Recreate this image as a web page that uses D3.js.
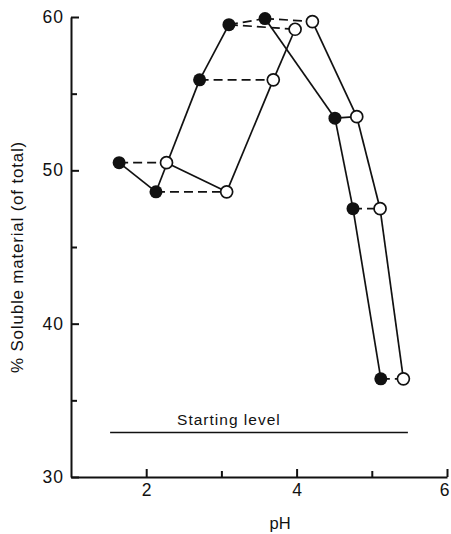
<!DOCTYPE html>
<meta charset="utf-8">
<style>
body { margin: 0; background: #fff; }
text { font-family: "Liberation Sans", Arial, sans-serif; fill: #111; }
.axis path, .axis line { stroke: #111; stroke-width: 2px; }
.link { fill: none; stroke: #111; stroke-width: 1.7px; }
.dashed { stroke-dasharray: 9 5; }
</style>
<body>
<script src="https://d3js.org/d3.v7.min.js"></script>
<script>

// filled circles (pH, % soluble)
var filledPH  = [1.64, 2.13, 2.71, 3.10, 3.58, 4.51, 4.75, 5.12];
var filledVal = [50.5, 48.6, 55.9, 59.5, 59.9, 53.4, 47.5, 36.4];
// open circles
var openPH  = [2.27, 3.07, 3.69, 3.98, 4.21, 4.80, 5.11, 5.42];
var openVal = [50.5, 48.6, 55.9, 59.2, 59.7, 53.5, 47.5, 36.4];

// links between points: [series, index, series, index]
var solidLinks = [
  ["f",0,"f",1], ["f",1,"f",2], ["f",2,"f",3], ["f",4,"f",5], ["f",5,"f",6], ["f",6,"f",7],
  ["o",0,"o",1], ["o",1,"o",2], ["o",2,"o",3], ["o",4,"o",5], ["o",5,"o",6], ["o",6,"o",7],
  ["f",5,"o",5]
];
var dashedLinks = [
  ["f",0,"o",0], ["f",1,"o",1], ["f",2,"o",2], ["f",3,"o",3], ["f",3,"f",4],
  ["f",4,"o",4], ["f",6,"o",6], ["f",7,"o",7]
];

var startingLevel = 32.9;
var startingRange = [1.52, 5.48];

var xTicks = [2, 4, 6], xMinor = [3, 5];
var yTicks = [30, 40, 50, 60], yMinor = [35, 45, 55];

var margin = {top: 17, left: 71},
    width = 376,
    height = 460;

var x = d3.scaleLinear().domain([1, 6]).range([0, width]);
var y = d3.scaleLinear().domain([30, 60]).range([height, 0]);

var svg = d3.select("body").append("svg")
    .attr("width", 451)
    .attr("height", 534)
  .append("g")
    .attr("transform", "translate(" + margin.left + "," + margin.top + ")");

function pt(s, i) {
  return s == "f" ? [filledPH[i], filledVal[i]] : [openPH[i], openVal[i]];
}

// axes, ticks pointing inward
svg.append("g")
    .attr("class", "axis")
    .attr("transform", "translate(0," + height + ")")
    .call(d3.axisBottom(x).tickValues(xTicks).tickFormat(d3.format("d"))
      .tickSizeInner(-8).tickSizeOuter(0).tickPadding(7))
    .call(g => g.selectAll("text").style("font-size", "17.5px").attr("fill", "#111")
      .attr("dx", d => d == 6 ? "-3" : null));

svg.append("g")
    .attr("class", "axis")
    .attr("transform", "translate(0," + height + ")")
    .call(d3.axisBottom(x).tickValues(xMinor).tickSizeInner(-6).tickSizeOuter(0).tickFormat(""))
    .call(g => g.select(".domain").remove());

svg.append("g")
    .attr("class", "axis")
    .call(d3.axisLeft(y).tickValues(yTicks).tickFormat(d3.format("d"))
      .tickSizeInner(-8).tickSizeOuter(0).tickPadding(7))
    .call(g => g.selectAll("text").style("font-size", "17.5px").style("letter-spacing", "1px")
      .attr("fill", "#111"));

svg.append("g")
    .attr("class", "axis")
    .call(d3.axisLeft(y).tickValues(yMinor).tickSizeInner(-6).tickSizeOuter(0).tickFormat(""))
    .call(g => g.select(".domain").remove());

// starting level
svg.append("line")
    .attr("class", "link")
    .attr("x1", x(startingRange[0])).attr("x2", x(startingRange[1]))
    .attr("y1", y(startingLevel)).attr("y2", y(startingLevel))
    .style("stroke-width", "1.4px");

svg.append("text")
    .attr("x", x(3.1))
    .attr("y", y(startingLevel) - 8)
    .attr("text-anchor", "middle")
    .style("font-size", "15.5px")
    .style("letter-spacing", "1px")
    .text("Starting level");

// links
function drawLinks(links, cls) {
  svg.selectAll("line." + cls)
    .data(links)
    .enter().append("line")
      .attr("class", "link " + cls)
      .attr("x1", d => x(pt(d[0], d[1])[0]))
      .attr("y1", d => y(pt(d[0], d[1])[1]))
      .attr("x2", d => x(pt(d[2], d[3])[0]))
      .attr("y2", d => y(pt(d[2], d[3])[1]));
}
drawLinks(solidLinks, "solid");
drawLinks(dashedLinks, "dashed");

// points
svg.selectAll("circle.open")
    .data(openPH.map((p, i) => [p, openVal[i]]))
    .enter().append("circle")
      .attr("class", "open")
      .attr("cx", d => x(d[0]))
      .attr("cy", d => y(d[1]))
      .attr("r", 6)
      .style("fill", "#fff")
      .style("stroke", "#111")
      .style("stroke-width", "1.7px");

svg.selectAll("circle.filled")
    .data(filledPH.map((p, i) => [p, filledVal[i]]))
    .enter().append("circle")
      .attr("class", "filled")
      .attr("cx", d => x(d[0]))
      .attr("cy", d => y(d[1]))
      .attr("r", 6.5)
      .style("fill", "#111");

// axis titles
svg.append("text")
    .attr("x", 209)
    .attr("y", height + 52)
    .attr("text-anchor", "middle")
    .style("font-size", "16.5px")
    .text("pH");

svg.append("text")
    .attr("transform", "translate(" + (23 - margin.left) + "," + (257 - margin.top) + ") rotate(-90)")
    .attr("text-anchor", "middle")
    .style("font-size", "17px")
    .style("letter-spacing", "0.8px")
    .text("% Soluble material (of total)");

</script>
</body>
